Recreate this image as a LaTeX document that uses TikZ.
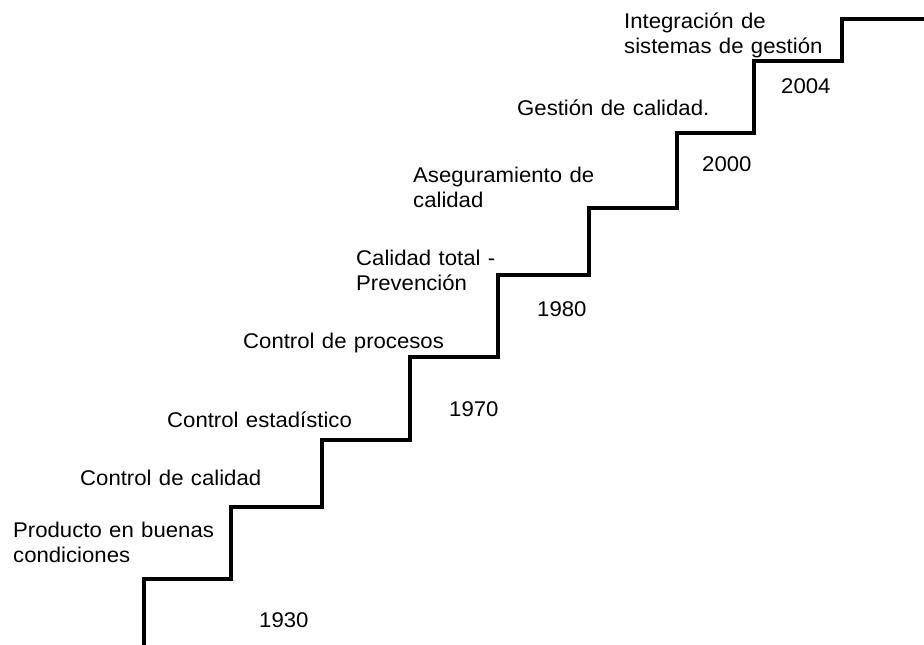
\documentclass[tikz,border=0pt]{standalone}
\usepackage{fontspec}
\setmainfont[FakeStretch=1.04,WordSpace=1.2]{Liberation Sans}
\begin{document}
\begin{tikzpicture}[x=1pt,y=-1pt,
  lbl/.style={anchor=base west,inner sep=0pt,align=left,font=\fontsize{21.3}{25}\selectfont},
  stair/.style={line width=3.2pt,line join=miter,black}]
\useasboundingbox (0,0) rectangle (924,645);
\draw[stair] (144,645) -- (144,579) -- (231,579) -- (231,507) -- (322,507) -- (322,440)
  -- (410,440) -- (410,357) -- (498,357) -- (498,275) -- (589,275) -- (589,208)
  -- (677,208) -- (677,133) -- (754,133) -- (754,61) -- (842,61) -- (842,19) -- (924,19);
% two-line labels: anchor point is the baseline of the last line
\node[lbl] (t1) at (13,562) {Producto en buenas\\condiciones};
\node[lbl] (t2) at (80,485) {Control de calidad};
\node[lbl] (t3) at (167,427) {Control estadístico};
\node[lbl] (t4) at (243,348) {Control de procesos};
\node[lbl] (t5) at (356,290) {Calidad total -\\Prevención};
\node[lbl] (t6) at (413,207) {Aseguramiento de\\calidad};
\node[lbl] (t7) at (517,115) {Gestión de calidad.};
\node[lbl] (t8) at (624,53) {Integración de\\sistemas de gestión};
\node[lbl] (y1) at (259,627) {1930};
\node[lbl] (y2) at (449,416) {1970};
\node[lbl] (y3) at (537,316) {1980};
\node[lbl] (y4) at (702,171) {2000};
\node[lbl] (y5) at (781,93) {2004};
\end{tikzpicture}
\end{document}
